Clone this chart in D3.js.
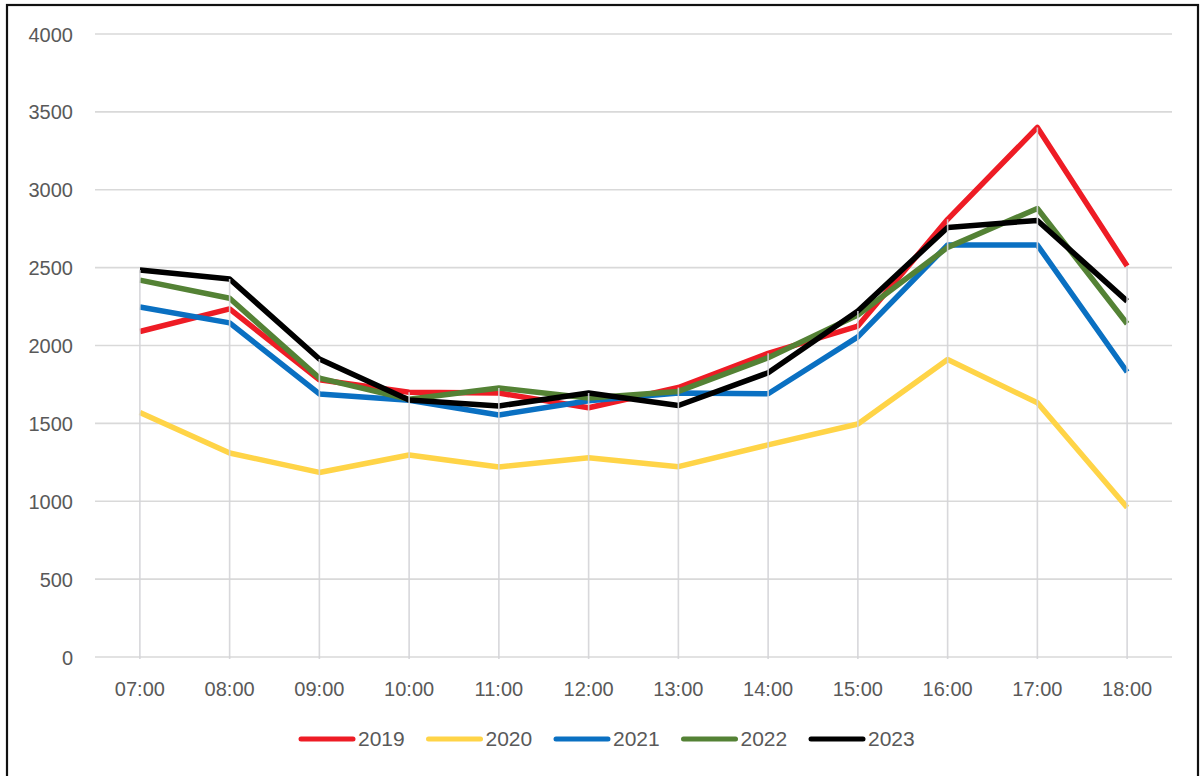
<!DOCTYPE html>
<html>
<head>
<meta charset="utf-8">
<script src="https://cdn.jsdelivr.net/npm/d3@7/dist/d3.min.js"></script>
<style>
  html, body { margin: 0; padding: 0; background: #fff; }
  svg { display: block; }
</style>
</head>
<body>
<svg id="chart" width="1200" height="776"></svg>
<script>
// Hourly counts, 07:00–18:00, one series per year
const hours = ["07:00","08:00","09:00","10:00","11:00","12:00","13:00","14:00","15:00","16:00","17:00","18:00"];
const years = ["2019","2020","2021","2022","2023"];
const values2019 = [2090, 2235, 1780, 1700, 1695, 1600, 1730, 1950, 2125, 2810, 3400, 2510];
const values2020 = [1570, 1310, 1185, 1297, 1220, 1280, 1222, 1362, 1496, 1910, 1632, 960];
const values2021 = [2247, 2145, 1689, 1648, 1554, 1645, 1695, 1690, 2055, 2645, 2645, 1830];
const values2022 = [2420, 2303, 1791, 1655, 1727, 1663, 1705, 1922, 2196, 2630, 2880, 2140];
const values2023 = [2485, 2427, 1913, 1650, 1612, 1695, 1615, 1825, 2222, 2758, 2803, 2285];
const yTicks = [0, 500, 1000, 1500, 2000, 2500, 3000, 3500, 4000];
const colors = ["#ee1c25", "#ffd447", "#0a70c2", "#548235", "#000000"];

const seriesValues = [values2019, values2020, values2021, values2022, values2023];
const series = years.map((y, i) => ({ name: y, color: colors[i], values: seriesValues[i] }));

const svg = d3.select("#chart");
const plot = { left: 95, right: 1172, top: 34, bottom: 657 };

const x = d3.scaleBand().domain(hours).range([plot.left, plot.right]);
const cx = h => x(h) + x.bandwidth() / 2;
const y = d3.scaleLinear().domain([0, 4000]).range([plot.bottom, plot.top]);

// outer frame
svg.append("rect")
  .attr("x", 7).attr("y", 5).attr("width", 1191).attr("height", 800)
  .attr("fill", "none").attr("stroke", "#111").attr("stroke-width", 2.2);

// horizontal gridlines
svg.append("g").selectAll("line").data(yTicks).join("line")
  .attr("x1", plot.left).attr("x2", plot.right)
  .attr("y1", d => y(d)).attr("y2", d => y(d))
  .attr("stroke", "#d9d9d9").attr("stroke-width", 1.6);

// y axis labels
const yAxis = d3.axisLeft(y).tickValues(yTicks).tickSize(0).tickPadding(0).tickFormat(d3.format("d"));
const gy = svg.append("g").attr("transform", "translate(73,0)").call(yAxis);
gy.select(".domain").remove();
gy.selectAll("text")
  .attr("font-family", "'Liberation Sans', Arial, sans-serif")
  .attr("font-size", 20).attr("fill", "#595959").attr("dy", "0.35em");

// x axis labels
const xAxis = d3.axisBottom(x).tickSize(0).tickPadding(0);
const gx = svg.append("g").attr("transform", `translate(0,${plot.bottom + 32})`).call(xAxis);
gx.select(".domain").remove();
gx.selectAll("text")
  .attr("font-family", "'Liberation Sans', Arial, sans-serif")
  .attr("font-size", 20).attr("fill", "#595959").attr("dy", "0.35em");

// series lines
const line = d3.line().x((d, i) => cx(hours[i])).y(d => y(d));
svg.append("g").selectAll("path").data(series).join("path")
  .attr("d", d => line(d.values))
  .attr("fill", "none")
  .attr("stroke", d => d.color)
  .attr("stroke-width", 5.5)
  .attr("stroke-linejoin", "round");

// drop lines from the highest value at each hour down to the axis
const maxima = hours.map((h, i) => d3.max(seriesValues, s => s[i]));
svg.append("g").selectAll("line").data(hours).join("line")
  .attr("x1", d => cx(d)).attr("x2", d => cx(d))
  .attr("y1", (d, i) => y(maxima[i])).attr("y2", y(0) + 2)
  .attr("stroke", "#d4d4d8").attr("stroke-width", 1.6).attr("opacity", 0.9);

// legend
const legendStep = 127.5;
const lg = svg.append("g").attr("transform", "translate(299,739)")
  .selectAll("g").data(series).join("g")
  .attr("transform", (d, i) => `translate(${i * legendStep},0)`);
lg.append("line")
  .attr("x1", 2).attr("x2", 54).attr("y1", 0).attr("y2", 0)
  .attr("stroke", d => d.color).attr("stroke-width", 5).attr("stroke-linecap", "round");
lg.append("text")
  .attr("x", 59).attr("y", 0).attr("dy", "0.35em")
  .attr("font-family", "'Liberation Sans', Arial, sans-serif")
  .attr("font-size", 21).attr("fill", "#595959")
  .text(d => d.name);
</script>
</body>
</html>
